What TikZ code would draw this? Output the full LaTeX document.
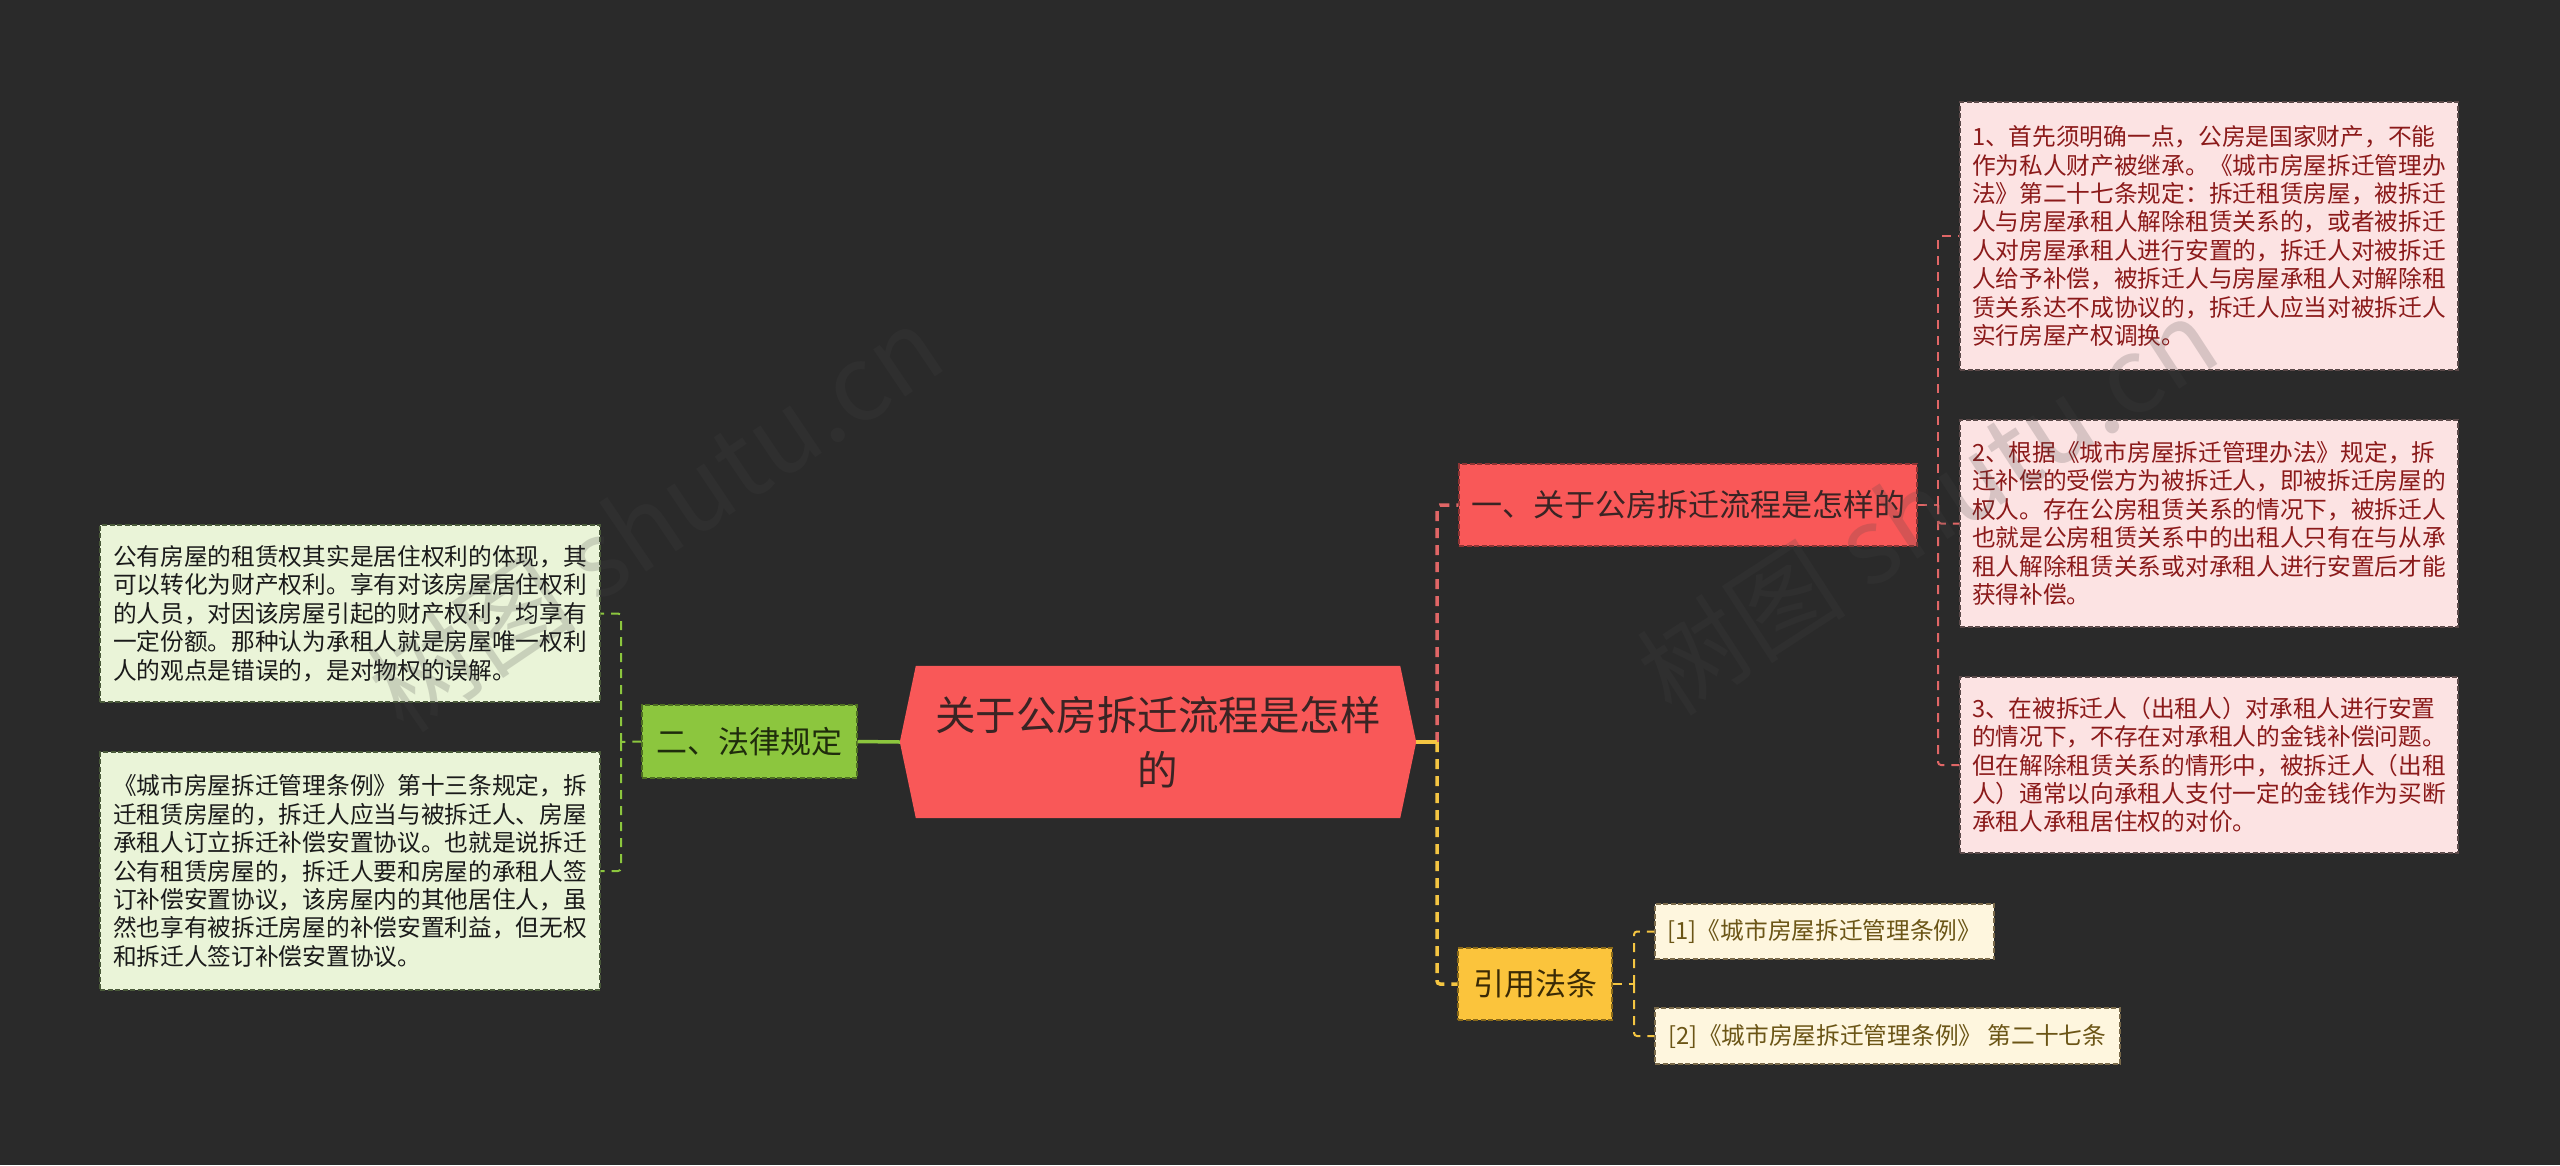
\documentclass[tikz,border=0pt]{standalone}
\usepackage{fontspec}
\setmainfont{Noto Sans CJK SC}
\usetikzlibrary{calc}
\pgfdeclarelayer{bg}
\pgfsetlayers{bg,main}
\definecolor{bgc}{HTML}{2A2A2A}
\definecolor{rootfill}{HTML}{F95858}
\definecolor{roottext}{HTML}{3A2424}
\definecolor{redline}{HTML}{E06666}
\definecolor{redbd}{HTML}{8E3434}
\definecolor{pinkfill}{HTML}{FCE3E3}
\definecolor{pinktext}{HTML}{8B1A1A}
\definecolor{pinkbd}{HTML}{5C4A4A}
\definecolor{greenfill}{HTML}{8CC63E}
\definecolor{greentext}{HTML}{1F2C0C}
\definecolor{greenbd}{HTML}{4E6E22}
\definecolor{greenline}{HTML}{8CC63E}
\definecolor{lgreenfill}{HTML}{EAF4D8}
\definecolor{lgreentext}{HTML}{1A1A1A}
\definecolor{lgreenbd}{HTML}{4A5A3A}
\definecolor{yelfill}{HTML}{FBC43C}
\definecolor{yeltext}{HTML}{3A2A05}
\definecolor{yelbd}{HTML}{8A6A1A}
\definecolor{yelline}{HTML}{F4C542}
\definecolor{creamfill}{HTML}{FEF6DE}
\definecolor{creamtext}{HTML}{6B5516}
\definecolor{creambd}{HTML}{7A6A4A}
\definecolor{wmc}{HTML}{444444}
\begin{document}
\begin{tikzpicture}[x=1pt,y=-1pt,
  boxdash/.style={dash pattern=on 5pt off 2.5pt, line width=1.3pt},
  leafbase/.style={boxdash, font=\fontsize{23.7}{28.4}\selectfont, text width=474pt, align=left, inner sep=0pt, anchor=center},
  leafR/.style={leafbase, draw=pinkbd, fill=pinkfill, text=pinktext, minimum width=498pt},
  leafL/.style={leafbase, draw=lgreenbd, fill=lgreenfill, text=lgreentext, minimum width=500pt},
  refleaf/.style={boxdash, draw=creambd, fill=creamfill, text=creamtext, font=\fontsize{23.7}{28.4}\selectfont, inner sep=0pt, anchor=center},
  branch/.style={boxdash, inner sep=0pt, anchor=center, font=\fontsize{31}{36}\selectfont},
  mainline/.style={line width=3.5pt},
  maindash/.style={line width=3.5pt, dash pattern=on 10pt off 7pt, rounded corners=3pt},
  leafdash/.style={line width=2pt, dash pattern=on 9pt off 7pt, rounded corners=3pt},
  wm/.style={text=wmc, opacity=0.2, font=\fontsize{105}{110}\selectfont}
]
\useasboundingbox (0,0) rectangle (2560,1165);

% root
\node (root) [minimum width=516pt, minimum height=152pt, inner sep=0pt, align=center, text=roottext, font=\fontsize{40.5}{55}\selectfont] at (1158,742) {关于公房拆迁流程是怎样\\的};

\begin{pgfonlayer}{bg}
\fill[bgc] (0,0) rectangle (2560,1165);
\fill[rootfill] (root.west) -- ($(root.north west)+(16,0)$) -- ($(root.north east)+(-16,0)$) -- (root.east) -- ($(root.south east)+(-16,0)$) -- ($(root.south west)+(16,0)$) -- cycle;
\end{pgfonlayer}

% branches
\node (b1) [branch, draw=redbd, fill=rootfill, text=roottext, minimum width=458pt, minimum height=82pt] at (1688,505) {一、关于公房拆迁流程是怎样的};
\node (b2) [branch, draw=greenbd, fill=greenfill, text=greentext, minimum width=215pt, minimum height=73pt] at (749.5,741.5) {二、法律规定};
\node (b3) [branch, draw=yelbd, fill=yelfill, text=yeltext, minimum width=154pt, minimum height=72pt] at (1535,984) {引用法条};

% right leaves
\node (r1) [leafR, minimum height=268pt] at (2209,236) {1、首先须明确一点，公房是国家财产，不能\\作为私人财产被继承。《城市房屋拆迁管理办\\法》第二十七条规定：拆迁租赁房屋，被拆迁\\人与房屋承租人解除租赁关系的，或者被拆迁\\人对房屋承租人进行安置的，拆迁人对被拆迁\\人给予补偿，被拆迁人与房屋承租人对解除租\\赁关系达不成协议的，拆迁人应当对被拆迁人\\实行房屋产权调换。};
\node (r2) [leafR, minimum height=207pt] at (2209,523.5) {2、根据《城市房屋拆迁管理办法》规定，拆\\迁补偿的受偿方为被拆迁人，即被拆迁房屋的\\权人。存在公房租赁关系的情况下，被拆迁人\\也就是公房租赁关系中的出租人只有在与从承\\租人解除租赁关系或对承租人进行安置后才能\\获得补偿。};
\node (r3) [leafR, minimum height=176pt] at (2209,765) {3、在被拆迁人（出租人）对承租人进行安置\\的情况下，不存在对承租人的金钱补偿问题。\\但在解除租赁关系的情形中，被拆迁人（出租\\人）通常以向承租人支付一定的金钱作为买断\\承租人承租居住权的对价。};

% left leaves
\node (l1) [leafL, minimum height=177pt] at (350,613.5) {公有房屋的租赁权其实是居住权利的体现，其\\可以转化为财产权利。享有对该房屋居住权利\\的人员，对因该房屋引起的财产权利，均享有\\一定份额。那种认为承租人就是房屋唯一权利\\人的观点是错误的，是对物权的误解。};
\node (l2) [leafL, minimum height=238pt] at (350,871) {《城市房屋拆迁管理条例》第十三条规定，拆\\迁租赁房屋的，拆迁人应当与被拆迁人、房屋\\承租人订立拆迁补偿安置协议。也就是说拆迁\\公有租赁房屋的，拆迁人要和房屋的承租人签\\订补偿安置协议，该房屋内的其他居住人，虽\\然也享有被拆迁房屋的补偿安置利益，但无权\\和拆迁人签订补偿安置协议。};

% reference leaves
\node (f1) [refleaf, minimum width=339pt, minimum height=55pt] at (1824.5,931.5) {[1]《城市房屋拆迁管理条例》};
\node (f2) [refleaf, minimum width=465pt, minimum height=56pt] at (1887.5,1036) {[2]《城市房屋拆迁管理条例》 第二十七条};

% junctions
\coordinate (jr) at (1437,742);
\coordinate (jl) at (621,742);
\coordinate (jr1) at (1938,505);
\coordinate (jr3) at (1634,984);

% left connectors
\draw[greenline, mainline] (root.west) -- (b2.east);
\draw[greenline, leafdash] (b2.west) -- (jl);
\draw[greenline, leafdash] (jl) |- (l1.east);
\draw[greenline, leafdash] (jl) |- (l2.east);

% right connectors
\draw[redline, maindash] (jr) |- (b1.west);
\draw[yelline, maindash] (jr) |- (b3.west);
\draw[yelline, mainline] (root.east) -- (jr);
\draw[redline, leafdash] (b1.east) -- (jr1);
\draw[redline, leafdash] (jr1) |- (r1.west);
\draw[redline, leafdash] (jr1) |- (r2.west);
\draw[redline, leafdash] (jr1) |- (r3.west);
\draw[yelline, leafdash] (b3.east) -- (jr3);
\draw[yelline, leafdash] (jr3) |- (f1.west);
\draw[yelline, leafdash] (jr3) |- (f2.west);

% watermarks
\node (wm1) [wm, rotate=34] at (655,518) {树图 shutu.cn};
\node (wm2) [wm, rotate=33] at (1927,506) {树图 shutu.cn};
\end{tikzpicture}
\end{document}
